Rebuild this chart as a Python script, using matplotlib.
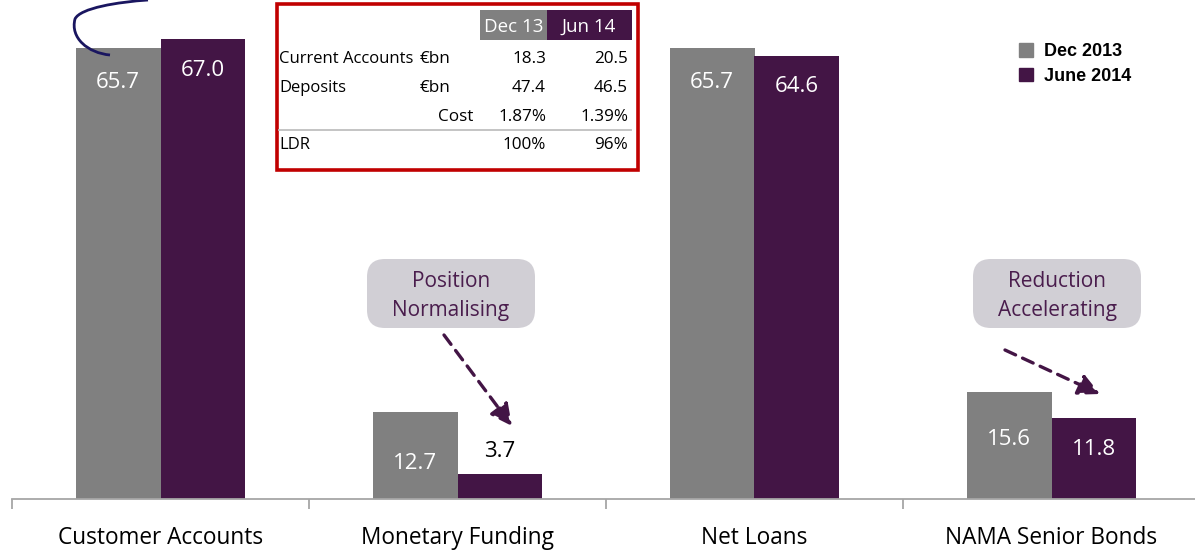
import matplotlib
matplotlib.use("Agg")
import matplotlib.pyplot as plt
from matplotlib.patches import Rectangle, FancyBboxPatch, PathPatch, Patch
from matplotlib.path import Path
import numpy as np

# data
categories = ["Customer Accounts", "Monetary Funding", "Net Loans", "NAMA Senior Bonds"]
dec_2013 = [65.7, 12.7, 65.7, 15.6]
jun_2014 = [67.0, 3.7, 64.6, 11.8]
series_names = ["Dec 2013", "June 2014"]

table_header = ["Dec 13", "Jun 14"]
table_rows = ["Current Accounts", "Deposits", "", "LDR"]
table_units = ["€bn", "€bn", "Cost", ""]
table_dec = ["18.3", "47.4", "1.87%", "100%"]
table_jun = ["20.5", "46.5", "1.39%", "96%"]

callouts = ["Position\nNormalising", "Reduction\nAccelerating"]

GREY = "#808080"
PURPLE = "#431545"
TEXTPURPLE = "#4a1d4d"
BOXGREY = "#d1cfd5"
FONT = "Open Sans"

W, H = 1195, 550
fig = plt.figure(figsize=(W / 100, H / 100), dpi=100)


def fx(x):
    return x / W


def fy(y):
    return 1 - y / H


# axes: baseline at y=499 px, x from 12 to 1200 px
ax = fig.add_axes([fx(12), fy(499), (1200 - 12) / W, 499 / H])
ax.set_ylim(0, 499 / 6.865)
ax.set_xlim(-0.5, 3.5)

x = np.arange(len(categories))
bw = 0.286
b1 = ax.bar(x - bw / 2, dec_2013, bw, color=GREY, zorder=2)
b2 = ax.bar(x + bw / 2, jun_2014, bw, color=PURPLE, zorder=2)

# value labels (offsets in points below bar top)
off1 = [-25, -37, -25, -34]
off2 = [-23, 16, -22, -23]
for rect, v, o in zip(b1, dec_2013, off1):
    ax.annotate(f"{v:.1f}", (rect.get_x() + rect.get_width() / 2, v), xytext=(0, o),
                textcoords="offset points", ha="center", va="center",
                color="white", fontsize=16, family=FONT)
for rect, v, o in zip(b2, jun_2014, off2):
    ax.annotate(f"{v:.1f}", (rect.get_x() + rect.get_width() / 2, v), xytext=(0, o),
                textcoords="offset points", ha="center", va="center",
                color="black" if o > 0 else "white", fontsize=16, family=FONT)

for s in ["top", "right", "left"]:
    ax.spines[s].set_visible(False)
ax.spines["bottom"].set_color("#a6a6a6")
ax.spines["bottom"].set_linewidth(1.3)
ax.set_yticks([])
ax.set_xticks(np.arange(-0.5, 4, 1))
ax.set_xticklabels([])
ax.tick_params(axis="x", which="major", length=7, color="#a6a6a6", width=1.3)
ax.set_xticks(x, minor=True)
ax.set_xticklabels(categories, minor=True, fontsize=16.3, family=FONT)
ax.tick_params(axis="x", which="minor", length=0, pad=19.5)

# legend
leg = fig.legend(handles=[Patch(color=GREY), Patch(color=PURPLE)], labels=series_names,
                 loc="upper left", bbox_to_anchor=(fx(1012), fy(36)), frameon=False,
                 prop={"family": "Liberation Sans", "weight": "bold", "size": 13},
                 handlelength=0.75, handleheight=0.75, handletextpad=0.65,
                 labelspacing=0.42, borderaxespad=0)

# table box
fig.patches.append(Rectangle((fx(277), fy(170)), (638 - 277) / W, (170 - 4) / H,
                             transform=fig.transFigure, fill=False, ec="#c00000", lw=2.6))
fig.patches.append(Rectangle((fx(480), fy(40)), 67 / W, 30 / H,
                             transform=fig.transFigure, color=GREY, lw=0))
fig.patches.append(Rectangle((fx(547), fy(40)), 85 / W, 30 / H,
                             transform=fig.transFigure, color=PURPLE, lw=0))
fig.text(fx(514), fy(27), table_header[0], color="white", ha="center", va="center",
         fontsize=13.5, family=FONT)
fig.text(fx(589), fy(27), table_header[1], color="white", ha="center", va="center",
         fontsize=13.5, family=FONT)
row_y = [59, 88, 117, 145]
for ry, lab, unit, d, j in zip(row_y, table_rows, table_units, table_dec, table_jun):
    fig.text(fx(279), fy(ry), lab, ha="left", va="center", fontsize=12, family=FONT)
    if unit == "Cost":
        fig.text(fx(473), fy(ry), unit, ha="right", va="center", fontsize=12.3, family=FONT)
    else:
        fig.text(fx(420), fy(ry), unit, ha="left", va="center", fontsize=12.3, family=FONT)
    fig.text(fx(546), fy(ry), d, ha="right", va="center", fontsize=12.3, family=FONT)
    fig.text(fx(628), fy(ry), j, ha="right", va="center", fontsize=12.3, family=FONT)
fig.lines.append(plt.Line2D([fx(279), fx(631)], [fy(130), fy(130)],
                            transform=fig.transFigure, color="#bfbfbf", lw=1.3))

# callout boxes and dashed arrows
box_x = [367, 973]
arrows = [((444, 335), (512, 426)), ((1005, 350), (1100, 394))]
for bx, txt, (p0, p1) in zip(box_x, callouts, arrows):
    fig.patches.append(FancyBboxPatch((fx(bx), fy(328)), 168 / W, 69 / H,
                                      boxstyle="round,pad=0,rounding_size=0.015",
                                      transform=fig.transFigure, fc=BOXGREY, ec="none",
                                      mutation_aspect=W / H))
    fig.text(fx(bx + 84), fy(296), txt, ha="center", va="center", color=TEXTPURPLE,
             fontsize=15, family=FONT, linespacing=1.55)
    ax.annotate("", xy=(fx(p1[0]), fy(p1[1])), xytext=(fx(p0[0]), fy(p0[1])),
                xycoords="figure fraction", textcoords="figure fraction",
                arrowprops=dict(arrowstyle="-|>,head_length=1.3,head_width=0.65",
                                color=PURPLE, lw=2.4, linestyle=(0, (3.5, 2.3)),
                                shrinkA=0, shrinkB=0))

# bracket fragment at top left
verts = [(fx(110), fy(55)), (fx(88), fy(53)), (fx(70), fy(38)), (fx(75), fy(19)),
         (fx(80), fy(8)), (fx(118), fy(2)), (fx(148), fy(0))]
codes = [Path.MOVETO, Path.CURVE4, Path.CURVE4, Path.CURVE4,
         Path.CURVE4, Path.CURVE4, Path.CURVE4]
fig.patches.append(PathPatch(Path(verts, codes), transform=fig.transFigure,
                             fill=False, ec="#1a1660", lw=2))

fig.savefig("out.png", dpi=100)
